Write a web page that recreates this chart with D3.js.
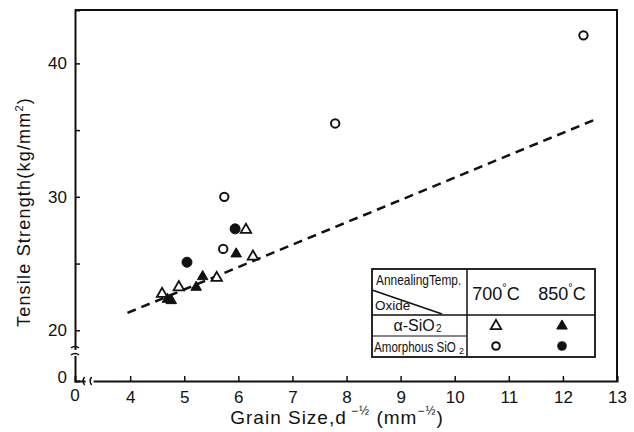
<!DOCTYPE html>
<html>
<head>
<meta charset="utf-8">
<script src="https://cdn.jsdelivr.net/npm/d3@7"></script>
<style>
  body { margin: 0; background: #fff; }
  svg { font-family: "Liberation Sans", "DejaVu Sans", sans-serif; }
</style>
</head>
<body>
<svg id="chart" width="634" height="432"></svg>
<script>
// tick values / labels
const xTickValues = [4, 5, 6, 7, 8, 9, 10, 11, 12, 13];
const yTickValues = [20, 25, 30, 35, 40];
const yTickLabels = { 20: "20", 30: "30", 40: "40" };

// alpha-SiO2, 700C (open triangles)
const a700X = [4.59, 4.90, 5.60, 6.14, 6.27];
const a700Y = [22.8, 23.3, 24.0, 27.6, 25.6];
// alpha-SiO2, 850C (filled triangles)
const a850X = [4.69, 4.76, 5.22, 5.34, 5.96];
const a850Y = [22.4, 22.3, 23.3, 24.1, 25.8];
// amorphous SiO2, 700C (open circles)
const am700X = [5.72, 5.74, 7.79, 12.38];
const am700Y = [26.1, 30.0, 35.5, 42.1];
// amorphous SiO2, 850C (filled circles)
const am850X = [5.05, 5.94];
const am850Y = [25.1, 27.6];
// dashed line ends
const fitX = [3.95, 12.6];
const fitY = [21.3, 35.8];

const svg = d3.select("#chart");

const x = d3.scaleLinear().domain([2.98, 13]).range([75, 617]);
const y = d3.scaleLinear().domain([16.2, 44]).range([381, 10]);

const ink = "#111";

// frame (top + right)
svg.append("path")
  .attr("d", `M${x(2.98)},${y(44)}H${x(13)}V${y(16.2)}`)
  .attr("fill", "none").attr("stroke", ink).attr("stroke-width", 2);

// x axis
const xAxis = svg.append("g")
  .attr("transform", `translate(0,${y(16.2)})`)
  .call(d3.axisBottom(x).tickValues(xTickValues).tickSize(-5).tickPadding(10)
    .tickFormat(d3.format("d")));
xAxis.select(".domain").attr("stroke", ink).attr("stroke-width", 2);
xAxis.selectAll(".tick line").attr("stroke", ink).attr("stroke-width", 1.5);
xAxis.selectAll(".tick text").attr("fill", ink).attr("font-size", 17);

// y axis
const yAxis = svg.append("g")
  .attr("transform", `translate(${x(2.98)},0)`)
  .call(d3.axisLeft(y).tickValues(yTickValues).tickSize(-5).tickPadding(8)
    .tickFormat(d => yTickLabels[d] || ""));
yAxis.select(".domain").attr("stroke", ink).attr("stroke-width", 2);
yAxis.selectAll(".tick line").attr("stroke", ink).attr("stroke-width", 1.5);
yAxis.selectAll(".tick text").attr("fill", ink).attr("font-size", 17);

// origin labels and axis breaks
svg.append("text").attr("x", x(2.98)).attr("y", y(16.2) + 20)
  .attr("text-anchor", "middle").attr("font-size", 17).attr("fill", ink).text("0");
svg.append("text").attr("x", x(2.98) - 8).attr("y", y(16.2) + 2)
  .attr("text-anchor", "end").attr("font-size", 17).attr("fill", ink).text("0");

const yb = y(18.3);
svg.append("rect").attr("x", x(2.98) - 4).attr("y", yb - 3).attr("width", 8).attr("height", 6).attr("fill", "#fff");
svg.append("path")
  .attr("d", `M${x(2.98) - 4},${yb - 5} q4,-3 8,0 M${x(2.98) - 4},${yb + 2} q4,-3 8,0`)
  .attr("fill", "none").attr("stroke", ink).attr("stroke-width", 1.5);
const xb = x(3.25);
svg.append("rect").attr("x", xb - 4).attr("y", y(16.2) - 4).attr("width", 8).attr("height", 8).attr("fill", "#fff");
svg.append("path")
  .attr("d", `M${xb - 5},${y(16.2) + 4} q-3,-4 0,-8 M${xb + 2},${y(16.2) + 4} q-3,-4 0,-8`)
  .attr("fill", "none").attr("stroke", ink).attr("stroke-width", 1.5);

// dashed line
svg.append("line")
  .attr("x1", x(fitX[0])).attr("y1", y(fitY[0]))
  .attr("x2", x(fitX[1])).attr("y2", y(fitY[1]))
  .attr("stroke", ink).attr("stroke-width", 2.5).attr("stroke-dasharray", "9,6");

// markers
const tri = d3.symbol().type(d3.symbolTriangle).size(48);
const zip = (xs, ys) => xs.map((v, i) => [v, ys[i]]);

function drawTri(g, pts, filled) {
  g.selectAll(null).data(pts).enter().append("path")
    .attr("d", tri)
    .attr("transform", d => `translate(${x(d[0])},${y(d[1]) + 1})`)
    .attr("fill", filled ? ink : "#fff")
    .attr("stroke", ink).attr("stroke-width", filled ? 1 : 1.8);
}
function drawCirc(g, pts, filled) {
  g.selectAll(null).data(pts).enter().append("circle")
    .attr("cx", d => x(d[0])).attr("cy", d => y(d[1]))
    .attr("r", filled ? 5 : 4.2)
    .attr("fill", filled ? ink : "#fff")
    .attr("stroke", ink).attr("stroke-width", filled ? 1 : 2);
}
const marks = svg.append("g");
drawTri(marks, zip(a700X, a700Y), false);
drawTri(marks, zip(a850X, a850Y), true);
drawCirc(marks, zip(am700X, am700Y), false);
drawCirc(marks, zip(am850X, am850Y), true);

// legend table
const L = { x0: 372, x1: 595, y0: 269, y1: 315, y2: 336, y3: 357, xd: 467 };
const leg = svg.append("g").attr("fill", ink);
leg.append("rect").attr("x", L.x0).attr("y", L.y0).attr("width", L.x1 - L.x0).attr("height", L.y3 - L.y0)
  .attr("fill", "#fff").attr("stroke", ink).attr("stroke-width", 1.8);
leg.append("line").attr("x1", L.x0).attr("x2", L.x1).attr("y1", L.y1).attr("y2", L.y1).attr("stroke", ink).attr("stroke-width", 1.5);
leg.append("line").attr("x1", L.x0).attr("x2", L.xd).attr("y1", L.y2).attr("y2", L.y2).attr("stroke", ink).attr("stroke-width", 1.2);
leg.append("line").attr("x1", L.xd).attr("x2", L.xd).attr("y1", L.y0).attr("y2", L.y3).attr("stroke", ink).attr("stroke-width", 1.5);
leg.append("line").attr("x1", L.x0).attr("y1", 290).attr("x2", 442).attr("y2", 314).attr("stroke", ink).attr("stroke-width", 1.5);

leg.append("text").attr("transform", "translate(376,285) scale(0.85,1)").attr("font-size", 14)
  .text("AnnealingTemp.");
leg.append("text").attr("x", 375).attr("y", 310).attr("font-size", 13.5).text("Oxide");
leg.append("text").attr("x", 414).attr("y", 331).attr("font-size", 16).attr("text-anchor", "middle").text("α-SiO");
leg.append("text").attr("x", 436).attr("y", 332).attr("font-size", 10).text("2");
leg.append("text").attr("transform", "translate(374,352) scale(0.8,1)").attr("font-size", 14.5)
  .text("Amorphous SiO");
leg.append("text").attr("x", 459).attr("y", 354).attr("font-size", 9).text("2");

const c700 = 496, c850 = 562;
[[c700, "700"], [c850, "850"]].forEach(([cx, t]) => {
  leg.append("text").attr("x", cx).attr("y", 300).attr("font-size", 18).attr("text-anchor", "middle")
    .html(`${t}<tspan font-size="11" dy="-9">°</tspan><tspan dy="9">C</tspan>`);
});
leg.append("path").attr("d", tri).attr("transform", `translate(${c700},326)`).attr("fill", "#fff").attr("stroke", ink).attr("stroke-width", 1.8);
leg.append("path").attr("d", tri).attr("transform", `translate(${c850},326)`).attr("fill", ink).attr("stroke", ink);
leg.append("circle").attr("cx", c700).attr("cy", 346).attr("r", 3.8).attr("fill", "#fff").attr("stroke", ink).attr("stroke-width", 2);
leg.append("circle").attr("cx", c850).attr("cy", 346).attr("r", 4.8).attr("fill", ink);

// axis titles
svg.append("text")
  .attr("transform", `translate(30,212) rotate(-90)`)
  .attr("text-anchor", "middle").attr("font-size", 18).attr("letter-spacing", 1.2).attr("fill", ink)
  .html('Tensile Strength(kg/mm<tspan font-size="11" dy="-7">2</tspan><tspan dy="7">)</tspan>');

svg.append("text")
  .attr("x", 337).attr("y", 424)
  .attr("text-anchor", "middle").attr("font-size", 19).attr("letter-spacing", 1).attr("fill", ink)
  .html('Grain  Size,d<tspan font-size="12" dy="-9"> −½</tspan><tspan dy="9"> (mm</tspan><tspan font-size="12" dy="-9">−½</tspan><tspan dy="9">)</tspan>');
</script>
</body>
</html>
